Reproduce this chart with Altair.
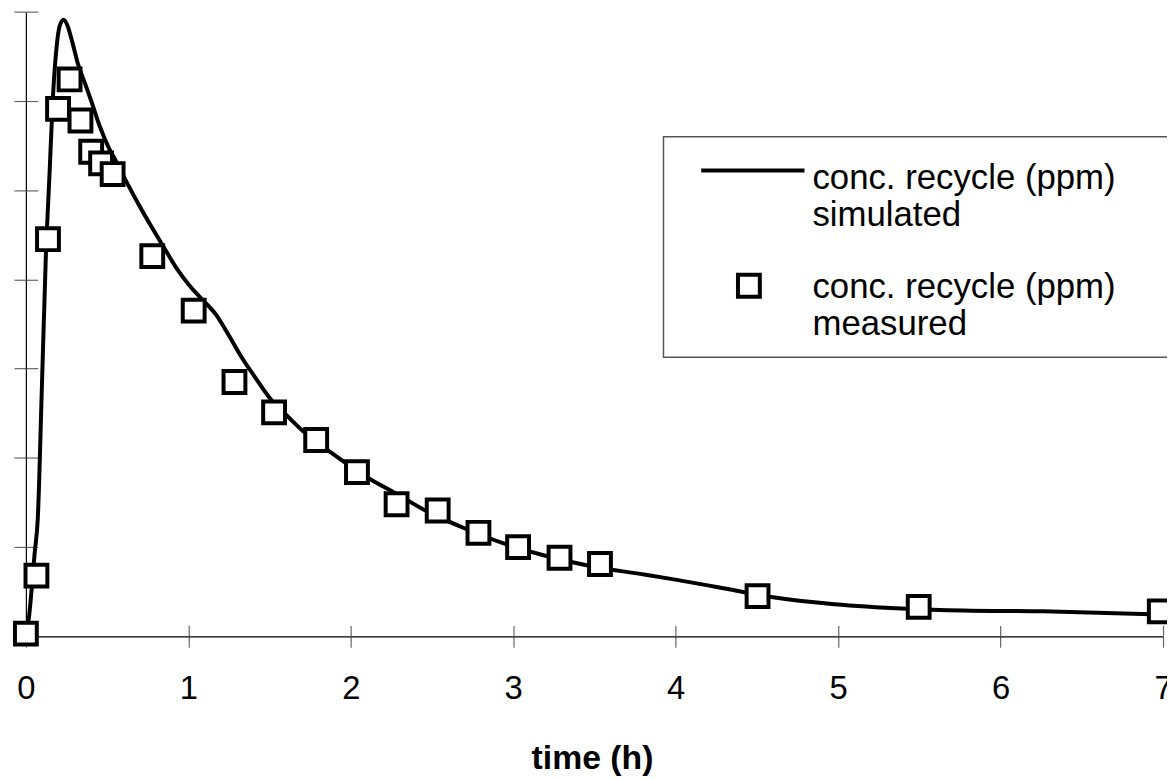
import altair as alt
import pandas as pd

# ---- data ----
sim_time = [0, 0.018, 0.055, 0.073, 0.098, 0.122, 0.147, 0.165, 0.190, 0.208, 0.232,
            0.257, 0.287, 0.318, 0.361, 0.404, 0.452, 0.514, 0.556, 0.617, 0.697,
            0.776, 0.862, 0.929, 1.003, 1.082, 1.168, 1.247, 1.327, 1.412, 1.510,
            1.614, 1.718, 1.877, 2.121, 2.268, 2.470, 2.714, 2.959, 3.204, 3.466,
            3.815, 3.998, 4.261, 4.610, 4.977, 5.423, 5.771, 6.26, 6.87, 7.0]
sim_conc = [0, 0.20, 0.95, 1.31, 2.76, 4.21, 5.24, 5.99, 6.62, 6.84, 6.91,
            6.84, 6.65, 6.43, 6.21, 5.99, 5.73, 5.46, 5.32, 5.10, 4.83,
            4.58, 4.32, 4.12, 3.94, 3.78, 3.61, 3.38, 3.13, 2.90, 2.65,
            2.46, 2.28, 2.06, 1.76, 1.61, 1.40, 1.20, 1.03, 0.90, 0.79,
            0.69, 0.635, 0.55, 0.435, 0.36, 0.31, 0.29, 0.28, 0.25, 0.245]

meas_time = [0, 0.065, 0.136, 0.198, 0.269, 0.336, 0.402, 0.463, 0.534, 0.778,
             1.033, 1.284, 1.528, 1.787, 2.038, 2.282, 2.535, 2.786, 3.030, 3.285,
             3.534, 4.504, 5.496, 6.98]
meas_conc = [0.03, 0.68, 4.45, 5.91, 6.24, 5.78, 5.43, 5.30, 5.18, 4.26,
             3.65, 2.85, 2.51, 2.20, 1.84, 1.48, 1.41, 1.16, 1.00, 0.88,
             0.81, 0.45, 0.33, 0.28]

x_ticks = [0, 1, 2, 3, 4, 5, 6, 7]
y_ticks = [0, 1, 2, 3, 4, 5, 6, 7]
x_title = "time (h)"
legend_lines = ["conc. recycle (ppm)", "simulated", "conc. recycle (ppm)", "measured"]

FONT = "Liberation Sans"

sim_df = pd.DataFrame({"t": sim_time, "c": sim_conc})
meas_df = pd.DataFrame({"t": meas_time, "c": meas_conc})
one = pd.DataFrame({"k": [0]})

xscale = alt.Scale(domain=[0, 7], nice=False, zero=False)
yscale = alt.Scale(domain=[0, 7], nice=False, zero=False)

x_axis_main = alt.Axis(
    orient="bottom", values=x_ticks, tickSize=11, labelPadding=26,
    labelFont=FONT, labelFontSize=33, labelColor="black", labelFlush=False,
    domainColor="black", domainWidth=1.2, tickColor="#666", tickWidth=1.2,
    grid=False, labelOverlap=False,
    title=x_title, titleFont=FONT, titleFontSize=34, titleFontWeight="bold",
    titleColor="black", titleBaseline="alphabetic", titleY=133, titleX=570,
)
y_axis_main = alt.Axis(
    orient="left", values=y_ticks, tickSize=12, labels=False, title="",
    domainColor="black", domainWidth=1.2, tickColor="#666", tickWidth=1.2,
    grid=False,
)
x_axis_inner = alt.Axis(
    orient="bottom", values=x_ticks, tickSize=11, offset=-11, labels=False,
    domain=False, title="", tickColor="#666", tickWidth=1.2, grid=False,
)
y_axis_inner = alt.Axis(
    orient="left", values=y_ticks, tickSize=12, offset=-12, labels=False,
    domain=False, title="", tickColor="#666", tickWidth=1.2, grid=False,
)

line = alt.Chart(sim_df).mark_line(
    color="black", strokeWidth=4, interpolate="monotone"
).encode(
    x=alt.X("t:Q", scale=xscale, axis=x_axis_main),
    y=alt.Y("c:Q", scale=yscale, axis=y_axis_main),
)

squares = alt.Chart(meas_df).mark_point(
    shape="square", filled=True, fill="white", stroke="black",
    strokeWidth=4, size=484, opacity=1,
).encode(
    x=alt.X("t:Q", scale=xscale, axis=x_axis_inner),
    y=alt.Y("c:Q", scale=yscale, axis=y_axis_inner),
)

# ---- legend (drawn box) ----
box = alt.Chart(one).mark_rect(
    fill="white", stroke="#555", strokeWidth=1.5
).encode(x=alt.value(642), x2=alt.value(1160), y=alt.value(126), y2=alt.value(348))

leg_line = alt.Chart(one).mark_rule(color="black", strokeWidth=4).encode(
    x=alt.value(680), x2=alt.value(784), y=alt.value(160)
)

leg_square = alt.Chart(one).mark_point(
    shape="square", filled=True, fill="white", stroke="black",
    strokeWidth=4, size=484, opacity=1,
).encode(x=alt.value(728), y=alt.value(276))

text_y = [179, 216, 288, 326]
texts = []
for label, ty in zip(legend_lines, text_y):
    texts.append(
        alt.Chart(one).mark_text(
            align="left", baseline="alphabetic", font=FONT, fontSize=35, color="black"
        ).encode(x=alt.value(792), y=alt.value(ty), text=alt.value(label))
    )

chart = alt.layer(line, squares, box, leg_line, leg_square, *texts).resolve_axis(
    x="independent", y="independent"
).properties(
    width=1145, height=629,
    padding={"left": 18, "top": 1, "right": 4, "bottom": 139},
    autosize=alt.AutoSizeParams(type="none"),
    background="white",
).configure_view(strokeWidth=0)

chart.save("out.html", embed_options={"renderer": "svg", "actions": False})
